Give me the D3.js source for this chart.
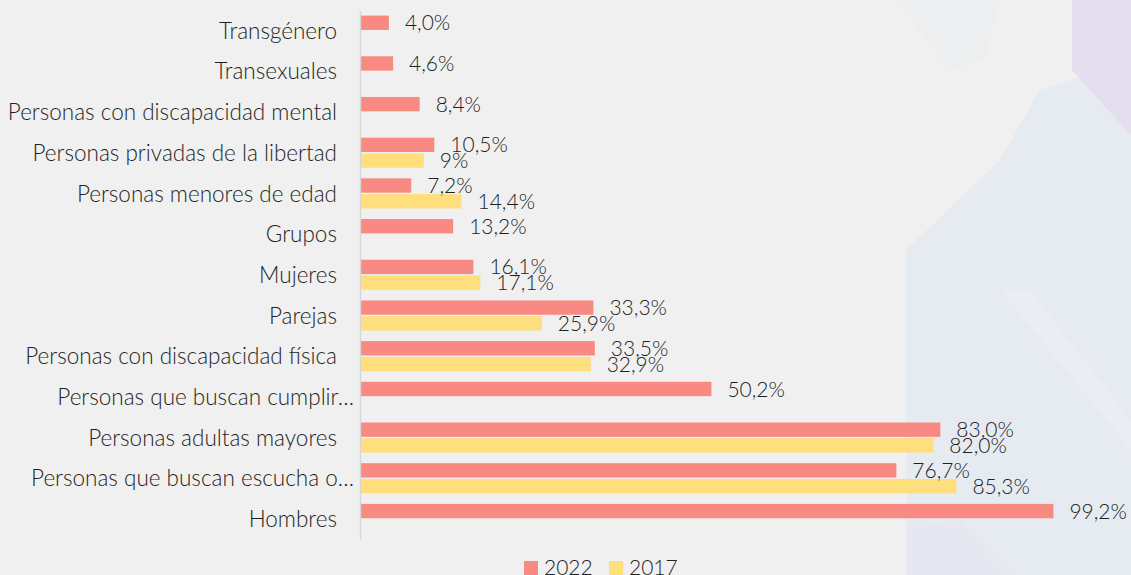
<!DOCTYPE html>
<html>
<head>
<meta charset="utf-8">
<script src="https://cdn.jsdelivr.net/npm/d3@7"></script>
<style>
  html, body { margin: 0; padding: 0; background: #f0f0f0; }
  svg { display: block; }
  text { font-family: Lato, "Open Sans", sans-serif; fill: #1f1f1f; }
</style>
</head>
<body>
<svg id="chart" width="1131" height="575"></svg>
<script>
const categories = [
  "Transgénero",
  "Transexuales",
  "Personas con discapacidad mental",
  "Personas privadas de la libertad",
  "Personas menores de edad",
  "Grupos",
  "Mujeres",
  "Parejas",
  "Personas con discapacidad física",
  "Personas que buscan cumplir…",
  "Personas adultas mayores",
  "Personas que buscan escucha o…",
  "Hombres"
];
const seriesNames = ["2022", "2017"];
const values2022 = [4.0, 4.6, 8.4, 10.5, 7.2, 13.2, 16.1, 33.3, 33.5, 50.2, 83.0, 76.7, 99.2];
const values2017 = [null, null, null, 9, 14.4, null, 17.1, 25.9, 32.9, null, 82.0, 85.3, null];
const labels2017 = [null, null, null, "9%", "14,4%", null, "17,1%", "25,9%", "32,9%", null, "82,0%", "85,3%", null];
const colors = ["#f88a83", "#ffdf7d"];

const svg = d3.select("#chart");

// faint decorative background shapes
const deco = svg.append("g");
deco.append("path").attr("d", "M906,250 L1000,160 L1040,90 L1131,60 L1131,575 L906,575 Z").attr("fill", "#e4e8f1").attr("opacity", 0.8);
deco.append("path").attr("d", "M1072,0 L1131,0 L1131,135 L1072,70 Z").attr("fill", "#e2dcee").attr("opacity", 0.9);
deco.append("path").attr("d", "M1000,290 L1030,290 L1131,420 L1131,450 Z").attr("fill", "#eef0f3").attr("opacity", 0.5);
deco.append("path").attr("d", "M906,530 L960,520 L1010,575 L906,575 Z").attr("fill", "#e6e5f1").attr("opacity", 0.7);
deco.append("path").attr("d", "M895,0 L1000,0 L985,60 L950,70 Z").attr("fill", "#eaedef").attr("opacity", 0.6);

const x = d3.scaleLinear().domain([0, 100]).range([361, 1059]);
const y = d3.scaleBand().domain(categories).range([10.3, 539.3]).paddingInner(0.26).paddingOuter(0.13);
const ySub = d3.scaleBand().domain(seriesNames).range([0, y.bandwidth()]).paddingInner(0.09);

const fmt = v => d3.format(".1f")(v).replace(".", ",") + "%";

const rows = categories.map((c, i) => ({
  cat: c,
  bars: [
    { s: "2022", v: values2022[i], label: fmt(values2022[i]) },
    { s: "2017", v: values2017[i], label: labels2017[i] }
  ].filter(d => d.v !== null)
}));

const g = svg.append("g");
const groups = g.selectAll("g.row").data(rows).join("g")
  .attr("class", "row")
  .attr("transform", d => `translate(0,${y(d.cat)})`);

groups.selectAll("rect").data(d => d.bars).join("rect")
  .attr("x", x(0))
  .attr("y", d => ySub(d.s))
  .attr("width", d => x(d.v) - x(0))
  .attr("height", ySub.bandwidth())
  .attr("fill", d => colors[seriesNames.indexOf(d.s)]);

groups.selectAll("text.val").data(d => d.bars).join("text")
  .attr("class", "val")
  .attr("x", d => x(d.v) + 16)
  .attr("y", d => ySub(d.s) + ySub.bandwidth() / 2)
  .attr("dy", "0.36em")
  .attr("font-size", 21)
  .attr("font-weight", 300)
  .text(d => d.label);

// axis line
const axis = d3.axisLeft(y).tickSize(0).tickPadding(0);
const ax = svg.append("g").attr("transform", `translate(${x(0) - 1},0)`).call(axis);
ax.select(".domain").attr("stroke", "#d6d6d6").attr("stroke-width", 1.5);
ax.selectAll(".tick text")
  .attr("font-size", 22.5)
  .attr("font-weight", 300)
  .attr("fill", "#1f1f1f")
  .style("font-family", "Lato, 'Open Sans', sans-serif")
  .attr("x", d => d.endsWith("…") ? -6 : -23)
  .attr("dy", "0.36em");

// legend
const legend = svg.append("g");
const legendX = [524, 609];
seriesNames.forEach((s, i) => {
  legend.append("rect").attr("x", legendX[i]).attr("y", 561).attr("width", 14).attr("height", 14).attr("fill", colors[i]);
  legend.append("text").attr("x", legendX[i] + 20).attr("y", 575).attr("font-size", 21).attr("font-weight", 300).text(s);
});
</script>
</body>
</html>
